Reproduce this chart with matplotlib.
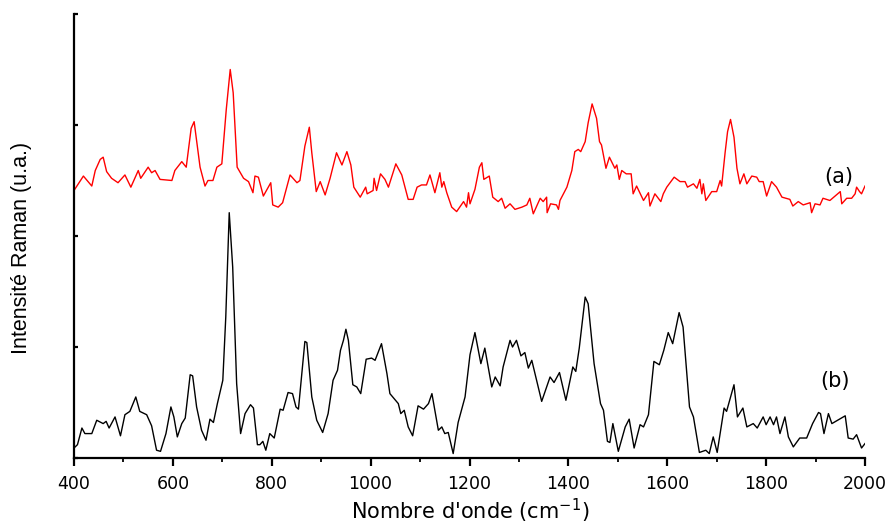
"""
Raman spectra (a) and (b), offset vertically, between 400 and 2000 cm-1.
"""

import matplotlib

matplotlib.use("Agg")
import matplotlib.pyplot as plt
from matplotlib.ticker import MultipleLocator

# Spectrum (a) - red, shifted up
wn_a = [400, 419, 436, 443, 453, 459, 466, 476, 489, 503, 515, 530, 535, 550, 557,
        564, 574, 598, 604, 618, 627, 637, 643, 655, 665, 671, 681, 689, 699, 708,
        716, 722, 730, 743, 753, 762, 766, 773, 783, 798, 802, 813, 822, 837, 851,
        857, 867, 876, 881, 890, 898, 908, 918, 931, 942, 952, 960, 966, 979, 990,
        993, 1005, 1007, 1012, 1020, 1029, 1036, 1046, 1051, 1063, 1076, 1086, 1094,
        1103, 1113, 1120, 1130, 1140, 1144, 1148, 1154, 1164, 1174, 1188, 1194, 1198,
        1201, 1211, 1220, 1225, 1229, 1240, 1247, 1258, 1265, 1272, 1282, 1292, 1306,
        1316, 1322, 1329, 1343, 1349, 1356, 1357, 1364, 1376, 1380, 1383, 1397, 1407,
        1413, 1420, 1425, 1434, 1440, 1448, 1457, 1463, 1467, 1476, 1483, 1494, 1498,
        1503, 1508, 1517, 1527, 1531, 1538, 1552, 1562, 1565, 1575, 1587, 1592, 1599,
        1614, 1626, 1636, 1641, 1653, 1660, 1666, 1670, 1673, 1678, 1690, 1700, 1707,
        1710, 1717, 1722, 1728, 1735, 1741, 1747, 1755, 1761, 1771, 1781, 1786, 1794,
        1801, 1811, 1821, 1832, 1848, 1854, 1865, 1875, 1889, 1892, 1899, 1909, 1915,
        1929, 1950, 1953, 1963, 1973, 1980, 1983, 1989, 1993, 2000]
int_a = [2.41, 2.54, 2.45, 2.59, 2.69, 2.71, 2.58, 2.52, 2.48, 2.55, 2.44, 2.59, 2.52,
         2.62, 2.57, 2.59, 2.51, 2.50, 2.59, 2.67, 2.62, 2.97, 3.03, 2.62, 2.45, 2.50,
         2.50, 2.62, 2.65, 3.14, 3.50, 3.29, 2.62, 2.52, 2.49, 2.39, 2.54, 2.53, 2.36,
         2.48, 2.28, 2.26, 2.30, 2.55, 2.48, 2.50, 2.81, 2.98, 2.75, 2.40, 2.49, 2.37,
         2.52, 2.75, 2.64, 2.76, 2.64, 2.44, 2.35, 2.44, 2.38, 2.41, 2.52, 2.41, 2.56,
         2.51, 2.44, 2.58, 2.65, 2.55, 2.33, 2.33, 2.44, 2.46, 2.46, 2.55, 2.39, 2.57,
         2.44, 2.49, 2.39, 2.26, 2.22, 2.31, 2.26, 2.39, 2.29, 2.42, 2.62, 2.66, 2.51,
         2.54, 2.35, 2.31, 2.34, 2.25, 2.29, 2.24, 2.26, 2.28, 2.34, 2.20, 2.34, 2.31,
         2.35, 2.21, 2.29, 2.28, 2.24, 2.32, 2.44, 2.59, 2.76, 2.78, 2.76, 2.85, 3.02,
         3.19, 3.06, 2.85, 2.82, 2.61, 2.71, 2.61, 2.64, 2.51, 2.59, 2.56, 2.56, 2.38,
         2.45, 2.32, 2.39, 2.27, 2.38, 2.31, 2.38, 2.44, 2.53, 2.49, 2.49, 2.44, 2.47,
         2.43, 2.51, 2.38, 2.47, 2.32, 2.40, 2.40, 2.50, 2.45, 2.75, 2.94, 3.05, 2.89,
         2.61, 2.47, 2.56, 2.47, 2.54, 2.53, 2.49, 2.49, 2.36, 2.49, 2.44, 2.35, 2.33,
         2.27, 2.31, 2.28, 2.30, 2.21, 2.29, 2.28, 2.34, 2.32, 2.40, 2.29, 2.34, 2.34,
         2.38, 2.44, 2.40, 2.38, 2.45]

# Spectrum (b) - black, at the bottom
wn_b = [400, 407, 416, 422, 436, 446, 459, 465, 471, 483, 494, 503, 513, 525, 533,
        547, 557, 567, 575, 586, 596, 602, 609, 618, 625, 635, 640, 648, 658, 667,
        675, 682, 690, 701, 707, 714, 721, 729, 737, 746, 757, 763, 771, 776, 782,
        788, 796, 805, 817, 823, 833, 842, 849, 854, 867, 871, 881, 891, 903, 914,
        924, 933, 939, 945, 950, 955, 964, 972, 980, 991, 1002, 1009, 1022, 1033,
        1039, 1056, 1061, 1068, 1076, 1085, 1096, 1107, 1117, 1124, 1137, 1144, 1150,
        1157, 1167, 1177, 1191, 1201, 1211, 1223, 1231, 1245, 1252, 1262, 1268, 1282,
        1287, 1295, 1304, 1312, 1319, 1326, 1346, 1363, 1371, 1382, 1395, 1409, 1415,
        1422, 1434, 1440, 1452, 1465, 1471, 1479, 1484, 1490, 1501, 1515, 1523, 1533,
        1545, 1552, 1562, 1573, 1584, 1593, 1602, 1611, 1624, 1632, 1645, 1653, 1665,
        1678, 1685, 1693, 1701, 1715, 1720, 1735, 1742, 1753, 1761, 1774, 1782, 1794,
        1800, 1808, 1815, 1821, 1828, 1838, 1845, 1855, 1868, 1882, 1894, 1906, 1910,
        1917, 1926, 1933, 1960, 1966, 1976, 1983, 1993, 2000]
int_b = [0.09, 0.12, 0.27, 0.22, 0.22, 0.34, 0.31, 0.33, 0.27, 0.37, 0.20, 0.39, 0.42,
         0.55, 0.42, 0.39, 0.29, 0.07, 0.06, 0.22, 0.46, 0.37, 0.19, 0.31, 0.36, 0.75,
         0.74, 0.46, 0.25, 0.16, 0.35, 0.32, 0.49, 0.70, 1.27, 2.21, 1.72, 0.67, 0.22,
         0.40, 0.48, 0.45, 0.12, 0.12, 0.15, 0.07, 0.22, 0.18, 0.44, 0.43, 0.59, 0.58,
         0.46, 0.44, 1.05, 1.04, 0.55, 0.34, 0.23, 0.40, 0.70, 0.79, 0.97, 1.06, 1.16,
         1.06, 0.66, 0.64, 0.58, 0.89, 0.90, 0.88, 1.03, 0.76, 0.58, 0.49, 0.40, 0.43,
         0.28, 0.20, 0.47, 0.44, 0.49, 0.58, 0.25, 0.28, 0.22, 0.23, 0.04, 0.32, 0.55,
         0.93, 1.13, 0.85, 0.99, 0.64, 0.73, 0.65, 0.82, 1.06, 1.00, 1.06, 0.92, 0.95,
         0.81, 0.88, 0.51, 0.73, 0.68, 0.77, 0.52, 0.82, 0.78, 0.99, 1.45, 1.39, 0.85,
         0.49, 0.43, 0.15, 0.14, 0.31, 0.06, 0.28, 0.35, 0.09, 0.30, 0.28, 0.39, 0.87,
         0.84, 0.97, 1.13, 1.03, 1.31, 1.18, 0.46, 0.37, 0.05, 0.07, 0.04, 0.19, 0.05,
         0.45, 0.42, 0.66, 0.37, 0.45, 0.28, 0.31, 0.27, 0.37, 0.30, 0.37, 0.30, 0.37,
         0.22, 0.37, 0.19, 0.10, 0.18, 0.18, 0.31, 0.41, 0.40, 0.22, 0.40, 0.31, 0.38,
         0.18, 0.17, 0.21, 0.09, 0.13]

x_ticks = [400, 600, 800, 1000, 1200, 1400, 1600, 1800, 2000]

fig = plt.figure(figsize=(8.92, 5.26), dpi=100)
ax = fig.add_axes([74 / 892, 1 - 458 / 526, (865 - 74) / 892, (458 - 14) / 526])

ax.plot(wn_a, int_a, color="#ff0000", lw=1.0)
ax.plot(wn_b, int_b, color="black", lw=1.0)

ax.set_xlim(400, 2000)
ax.set_ylim(0, 4)

# Only left and bottom axes, thick like Origin
for side in ["top", "right"]:
    ax.spines[side].set_visible(False)
for side in ["left", "bottom"]:
    ax.spines[side].set_linewidth(1.6)

ax.set_xticks(x_ticks)
ax.xaxis.set_minor_locator(MultipleLocator(100))
ax.set_xticklabels([str(t) for t in x_ticks], fontfamily="DejaVu Sans", fontsize=12.5)
ax.tick_params(axis="x", which="major", direction="out", length=6, width=1.6, pad=6)
ax.tick_params(axis="x", which="minor", direction="out", length=3, width=1.3)

# y ticks inside, no labels
ax.set_yticks([0, 1, 2, 3, 4])
ax.set_yticklabels([])
ax.tick_params(axis="y", direction="in", length=3, width=1.6)

# Curve labels
ax.text(1947, 2.53, "(a)", ha="center", va="center", fontsize=15, fontfamily="DejaVu Sans")
ax.text(1939, 0.69, "(b)", ha="center", va="center", fontsize=15, fontfamily="DejaVu Sans")

# Axis titles
fig.text(470 / 892, 7 / 526, "Nombre d'onde (cm$^{\\mathregular{-1}}$)", ha="center",
         va="baseline", fontsize=15, fontfamily="DejaVu Sans")
fig.text(22 / 892, 1 - 248 / 526, "Intensité Raman (u.a.)", rotation=90, ha="center",
         va="center", fontsize=15.5, fontfamily="Liberation Sans")

fig.savefig("out.png", dpi=100)
